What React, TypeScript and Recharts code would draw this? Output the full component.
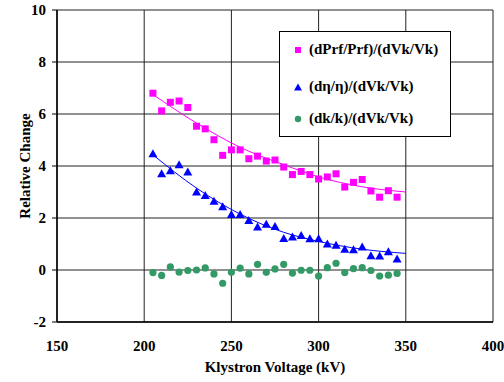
import React from 'react';
import { ComposedChart, Scatter, Line, XAxis, YAxis, CartesianGrid, Legend, Label } from 'recharts';

const voltages = [205, 210, 215, 220, 225, 230, 235, 240, 245, 250, 255, 260, 265, 270, 275,
  280, 285, 290, 295, 300, 305, 310, 315, 320, 325, 330, 335, 340, 345];

const prfChange = [6.8, 6.12, 6.45, 6.5, 6.25, 5.53, 5.43, 5.01, 4.41, 4.62, 4.62, 4.28, 4.38, 4.19, 4.23,
  3.96, 3.67, 3.79, 3.67, 3.5, 3.58, 3.7, 3.19, 3.37, 3.48, 3.04, 2.8, 3.05, 2.8];

const etaChange = [4.47, 3.7, 3.82, 4.05, 3.77, 3.0, 2.87, 2.64, 2.43, 2.13, 2.13, 1.9, 1.65, 1.76, 1.67,
  1.21, 1.27, 1.33, 1.2, 1.2, 1.0, 0.95, 0.8, 0.78, 0.88, 0.55, 0.54, 0.7, 0.42];

const kChange = [-0.1, -0.21, 0.12, -0.08, -0.02, 0.0, 0.08, -0.15, -0.51, -0.09, 0.07, -0.15, 0.22, -0.09, 0.04,
  0.22, -0.12, -0.01, -0.01, -0.23, 0.09, 0.26, -0.1, 0.05, 0.09, -0.02, -0.23, -0.2, -0.13];

// trend lines
const trendVoltages = [205, 230, 255, 280, 300, 325, 350];
const prfTrend = [6.75, 5.65, 4.72, 4.05, 3.58, 3.2, 3.0];
const etaTrend = [4.43, 3.15, 2.15, 1.45, 1.1, 0.8, 0.64];

const xTicks = [150, 200, 250, 300, 350, 400];
const yTicks = [-2, 0, 2, 4, 6, 8, 10];

const PINK = '#FF00FF';
const BLUE = '#0000FF';
const GREEN = '#339966';
const FONT = 'Liberation Serif, Times New Roman, Times, serif';

const prfData = voltages.map((v, i) => ({ kv: v, y: prfChange[i] }));
const etaData = voltages.map((v, i) => ({ kv: v, y: etaChange[i] }));
const kData = voltages.map((v, i) => ({ kv: v, y: kChange[i] }));
const prfTrendData = trendVoltages.map((v, i) => ({ kv: v, y: prfTrend[i] }));
const etaTrendData = trendVoltages.map((v, i) => ({ kv: v, y: etaTrend[i] }));

const Square = (props: any) => (
  <rect x={props.cx - 3.5} y={props.cy - 3.5} width={7} height={7} fill={PINK} />
);
const Triangle = (props: any) => (
  <polygon
    points={`${props.cx},${props.cy - 4.5} ${props.cx + 4.5},${props.cy + 3.5} ${props.cx - 4.5},${props.cy + 3.5}`}
    fill={BLUE}
  />
);
const Dot = (props: any) => <circle cx={props.cx} cy={props.cy} r={3.6} fill={GREEN} />;

const legendItems = [
  { label: '(dPrf/Prf)/(dVk/Vk)', top: 9, mark: <rect x={1} y={1} width={6} height={6} fill={PINK} /> },
  { label: '(dη/η)/(dVk/Vk)', top: 46, mark: <polygon points="4,0.5 8,7.5 0,7.5" fill={BLUE} /> },
  { label: '(dk/k)/(dVk/Vk)', top: 78, mark: <circle cx={4} cy={4} r={3.2} fill={GREEN} /> },
];

const LegendBox = () => (
  <div
    style={{
      position: 'relative',
      width: 172,
      height: 106,
      border: '1px solid #000',
      background: '#fff',
      boxSizing: 'border-box',
      fontFamily: FONT,
      fontWeight: 'bold',
      fontSize: 15,
      color: '#000',
    }}
  >
    {legendItems.map((it) => (
      <div key={it.label} style={{ position: 'absolute', left: 14, top: it.top, display: 'flex', alignItems: 'center', whiteSpace: 'nowrap' }}>
        <svg width={8} height={8} style={{ marginRight: 7 }}>{it.mark}</svg>
        <span>{it.label}</span>
      </div>
    ))}
  </div>
);

const tickStyle = { fontFamily: FONT, fontWeight: 'bold' as const, fontSize: 15, fill: '#000' };

export default function App() {
  return (
    <div style={{ position: 'absolute', left: 0, top: 0, background: '#fff', fontFamily: FONT }}>
      <ComposedChart width={504} height={382} margin={{ top: 10, right: 11, bottom: 0, left: 0 }}>
        <CartesianGrid stroke="#222" strokeWidth={1} fill="#fff" />
        <XAxis
          type="number"
          dataKey="kv"
          domain={[150, 400]}
          ticks={xTicks}
          interval={0}
          height={60}
          tickLine={false}
          tickMargin={12}
          axisLine={{ stroke: '#000', strokeWidth: 1.5 }}
          tick={tickStyle}
        >
          <Label
            content={({ viewBox }: any) => (
              <text
                x={viewBox.x + viewBox.width / 2}
                y={viewBox.y + 50}
                textAnchor="middle"
                fontFamily={FONT}
                fontWeight="bold"
                fontSize={15}
                fill="#000"
              >
                Klystron Voltage (kV)
              </text>
            )}
          />
        </XAxis>
        <YAxis
          type="number"
          dataKey="y"
          domain={[-2, 10]}
          ticks={yTicks}
          interval={0}
          width={57}
          tickSize={5}
          tickMargin={6}
          tickLine={{ stroke: '#000' }}
          axisLine={{ stroke: '#000', strokeWidth: 1.5 }}
          tick={tickStyle}
        >
          <Label
            content={({ viewBox }: any) => {
              const x = 25;
              const y = viewBox.y + viewBox.height / 2;
              return (
                <text
                  x={x}
                  y={y}
                  transform={`rotate(-90, ${x}, ${y})`}
                  textAnchor="middle"
                  dominantBaseline="central"
                  fontFamily={FONT}
                  fontWeight="bold"
                  fontSize={15}
                  fill="#000"
                >
                  Relative Change
                </text>
              );
            }}
          />
        </YAxis>
        <Line data={prfTrendData} dataKey="y" type="monotone" stroke={PINK} strokeWidth={1} dot={false} isAnimationActive={false} legendType="none" />
        <Line data={etaTrendData} dataKey="y" type="monotone" stroke={BLUE} strokeWidth={1} dot={false} isAnimationActive={false} legendType="none" />
        <Scatter data={prfData} dataKey="y" shape={Square} isAnimationActive={false} />
        <Scatter data={etaData} dataKey="y" shape={Triangle} isAnimationActive={false} />
        <Scatter data={kData} dataKey="y" shape={Dot} isAnimationActive={false} />
        <Legend
          layout="vertical"
          align="center"
          verticalAlign="middle"
          content={() => <LegendBox />}
          wrapperStyle={{ left: 279, top: 31, width: 172, height: 106 }}
        />
      </ComposedChart>
    </div>
  );
}
